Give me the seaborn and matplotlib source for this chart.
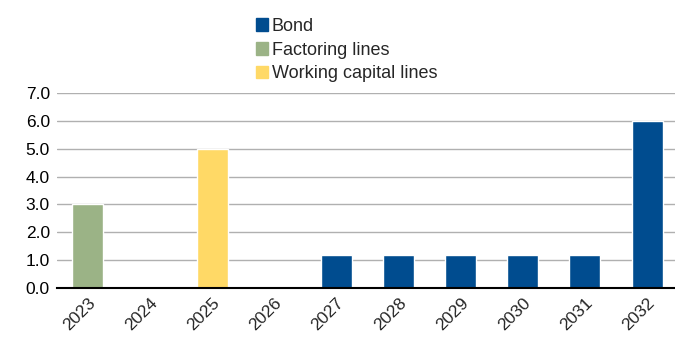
import matplotlib
matplotlib.use("Agg")
import matplotlib.pyplot as plt
import seaborn as sns
import pandas as pd

years = ["2023", "2024", "2025", "2026", "2027", "2028", "2029", "2030", "2031", "2032"]
values = [3.0, 0.0, 5.0, 0.0, 1.2, 1.2, 1.2, 1.2, 1.2, 6.0]
kinds = ["Factoring lines", "Bond", "Working capital lines", "Bond", "Bond",
         "Bond", "Bond", "Bond", "Bond", "Bond"]
legend_order = ["Bond", "Factoring lines", "Working capital lines"]
colors = {"Bond": "#004C8F", "Factoring lines": "#9BB386", "Working capital lines": "#FFD966"}

df = pd.DataFrame({"year": years, "value": values, "kind": kinds})

sns.set_theme(style="white")
plt.rcParams["font.family"] = ["Liberation Sans", "DejaVu Sans"]

fig = plt.figure(figsize=(6.75, 3.38), dpi=100)
ax = fig.add_axes([0.084, 0.148, 0.916, 0.577])

sns.barplot(data=df, x="year", y="value", hue="kind", hue_order=legend_order,
            palette=colors, dodge=False, width=0.5, ax=ax, legend=False,
            saturation=1, order=years)

ax.set_ylim(0, 7)
ax.set_xlim(-0.5, 9.45)
ax.set_yticks(range(0, 8))
ax.set_yticklabels([f"{v:.1f}" for v in range(0, 8)], fontsize=12.5, color="black")
ax.yaxis.grid(True, color="#B0B0B0", linewidth=1)
ax.set_axisbelow(True)
ax.tick_params(axis="both", length=0, pad=5)
plt.setp(ax.get_xticklabels(), rotation=45, ha="right", rotation_mode="anchor", fontsize=12.5)
ax.set_xlabel("")
ax.set_ylabel("")
for s in ["top", "right", "left"]:
    ax.spines[s].set_visible(False)
ax.spines["bottom"].set_color("black")
ax.spines["bottom"].set_linewidth(1.5)

handles = [plt.Rectangle((0, 0), 1, 1, color=colors[k]) for k in legend_order]
fig.legend(handles, legend_order, loc="upper left", bbox_to_anchor=(0.36, 0.985),
           frameon=False, fontsize=13, handlelength=0.7, handleheight=0.7,
           handletextpad=0.2, labelspacing=0.38, borderaxespad=0.3)

fig.savefig("out.png", dpi=100)
